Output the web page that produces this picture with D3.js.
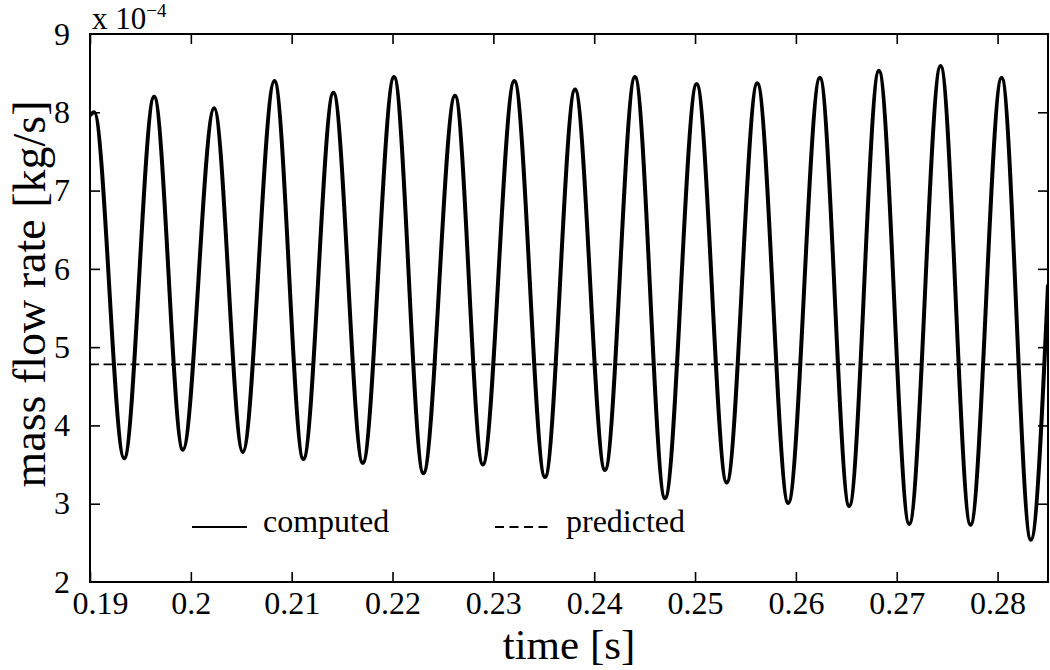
<!DOCTYPE html>
<html>
<head>
  <meta charset="utf-8">
  <title>mass flow rate</title>
  <style>
    body{
      background-color:#fff;
      margin: 0;
      padding: 0;
    }
    .chart{
      display: block;
      font-family: "Liberation Serif", "Times New Roman", serif;
    }
    .chart text{
      fill: #000;
    }
  </style>
</head>
<body>
  <svg class="chart"></svg>

<script src="https://cdnjs.cloudflare.com/ajax/libs/d3/7.8.5/d3.min.js"></script>
<script>

// extrema of the computed signal (values in units of 1e-4 kg/s)
var timeS = [0.19, 0.19041, 0.19339, 0.19636, 0.19921, 0.20231, 0.20515, 0.20829,
             0.21116, 0.21414, 0.21705, 0.22015, 0.22306, 0.22620, 0.22895, 0.23208,
             0.23512, 0.23810, 0.24107, 0.24404, 0.24702, 0.25016, 0.25314, 0.25617,
             0.25924, 0.26238, 0.26529, 0.26823, 0.27124, 0.27435, 0.27732, 0.28040,
             0.28330, 0.285];
var flowRate = [7.96, 8.00, 3.58, 8.20, 3.69, 8.05, 3.66, 8.40,
                3.57, 8.25, 3.52, 8.45, 3.39, 8.21, 3.50, 8.40,
                3.34, 8.29, 3.43, 8.45, 3.07, 8.36, 3.27, 8.37,
                3.01, 8.44, 2.97, 8.53, 2.74, 8.59, 2.73, 8.44,
                2.54, 5.80];
var predicted = 4.78;

var xTicks = [0.19, 0.2, 0.21, 0.22, 0.23, 0.24, 0.25, 0.26, 0.27, 0.28];
var yTicks = [2, 3, 4, 5, 6, 7, 8, 9];
var legendNames = ["computed", "predicted"];

var W = 1050, H = 670;
var margin = {left: 90, right: 1048, top: 34, bottom: 582};
var tickLen = 10;

var svg = d3.select(".chart")
    .attr("width", W)
    .attr("height", H);

var x = d3.scaleLinear().domain([0.19, 0.285]).range([margin.left, margin.right]);
var y = d3.scaleLinear().domain([2, 9]).range([margin.bottom, margin.top]);

svg.append("defs").append("clipPath").attr("id", "plotclip")
  .append("rect")
    .attr("x", margin.left).attr("y", margin.top)
    .attr("width", margin.right - margin.left).attr("height", margin.bottom - margin.top);

// predicted level
svg.append("line")
    .attr("clip-path", "url(#plotclip)")
    .attr("x1", x(0.19)).attr("x2", x(0.285))
    .attr("y1", y(predicted)).attr("y2", y(predicted))
    .attr("stroke", "#000")
    .attr("stroke-width", 1.8)
    .attr("stroke-dasharray", "9,4.5");

// computed
var data = timeS.map(function(t, i) { return [t, flowRate[i]]; });
var line = d3.line()
    .x(function(d) { return x(d[0]); })
    .y(function(d) { return y(d[1]); })
    .curve(d3.curveMonotoneX);

svg.append("path")
    .datum(data)
    .attr("clip-path", "url(#plotclip)")
    .attr("fill", "none")
    .attr("stroke", "#000")
    .attr("stroke-width", 4)
    .attr("stroke-linejoin", "round")
    .attr("d", line);

// axes, ticks pointing inside on all four sides
var fs = 32;
var gx = svg.append("g")
    .attr("transform", "translate(0," + margin.bottom + ")")
    .call(d3.axisBottom(x).tickValues(xTicks).tickSize(-tickLen).tickPadding(10).tickSizeOuter(0)
      .tickFormat(function(d) { return d3.format("")(+d.toFixed(2)); }));
gx.selectAll("text").attr("dy", "0.71em").attr("y", 9)
    .attr("dx", function(d, i) { return i === 0 ? 10 : 0; });

var gxt = svg.append("g")
    .attr("transform", "translate(0," + margin.top + ")")
    .call(d3.axisTop(x).tickValues(xTicks).tickSize(-tickLen).tickFormat("").tickSizeOuter(0));

var gy = svg.append("g")
    .attr("transform", "translate(" + margin.left + ",0)")
    .call(d3.axisLeft(y).tickValues(yTicks).tickSize(-tickLen).tickPadding(20).tickSizeOuter(0)
      .tickFormat(d3.format("d")));

var gyr = svg.append("g")
    .attr("transform", "translate(" + margin.right + ",0)")
    .call(d3.axisRight(y).tickValues(yTicks).tickSize(-tickLen).tickFormat("").tickSizeOuter(0));

[gx, gxt, gy, gyr].forEach(function(g) {
  g.select(".domain").remove();
  g.selectAll("line").attr("stroke", "#000").attr("stroke-width", 1.6);
  g.selectAll("text")
    .attr("font-family", "Liberation Serif, Times New Roman, serif")
    .attr("font-size", fs)
    .attr("fill", "#000");
});
// no tick marks at the box corners
gy.selectAll(".tick line").filter(function(d) { return d === 2 || d === 9; }).remove();
gyr.selectAll(".tick line").filter(function(d) { return d === 2 || d === 9; }).remove();

// frame
svg.append("rect")
    .attr("x", margin.left).attr("y", margin.top)
    .attr("width", margin.right - margin.left).attr("height", margin.bottom - margin.top)
    .attr("fill", "none")
    .attr("stroke", "#000")
    .attr("stroke-width", 2);

// exponent
var ex = svg.append("text")
    .attr("x", 92).attr("y", 29)
    .attr("font-size", 31);
ex.append("tspan").text("x 10");
ex.append("tspan").text("\u22124").attr("font-size", 19).attr("dy", -12);

// axis labels
svg.append("text")
    .attr("x", (margin.left + margin.right) / 2)
    .attr("y", 659)
    .attr("text-anchor", "middle")
    .attr("font-size", 43)
    .text("time [s]");

svg.append("text")
    .attr("transform", "translate(45,294) rotate(-90)")
    .attr("text-anchor", "middle")
    .attr("font-size", 46)
    .text("mass flow rate [kg/s]");

// legend
var legend = svg.append("g");
var legX = [192, 495];
legendNames.forEach(function(name, i) {
  legend.append("line")
      .attr("x1", legX[i]).attr("x2", legX[i] + 55)
      .attr("y1", 527).attr("y2", 527)
      .attr("stroke", "#000")
      .attr("stroke-width", 1.8)
      .attr("stroke-dasharray", i === 1 ? "9,5.5" : null);
  legend.append("text")
      .attr("x", legX[i] + 71)
      .attr("y", 532)
      .attr("font-size", fs)
      .text(name);
});

</script>
</body>
</html>
